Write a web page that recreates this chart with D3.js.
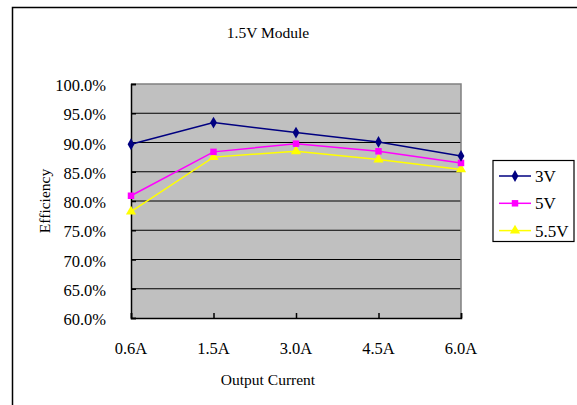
<!DOCTYPE html>
<html>
<head>
<meta charset="utf-8">
<script src="https://cdn.jsdelivr.net/npm/d3@7"></script>
<style>
  body { margin: 0; background: #fff; }
  text { font-family: "Liberation Serif", "Times New Roman", serif; fill: #000; }
</style>
</head>
<body>
<div id="chart"></div>
<script>
// data
var currents = ["0.6A", "1.5A", "3.0A", "4.5A", "6.0A"];
var eff3V = [89.7, 93.4, 91.7, 90.1, 87.7];
var eff5V = [80.9, 88.4, 89.8, 88.5, 86.5];
var eff55V = [78.2, 87.5, 88.5, 87.1, 85.4];
var seriesNames = ["3V", "5V", "5.5V"];
var yTicks = [60, 65, 70, 75, 80, 85, 90, 95, 100];

var svgWidth = 577;
var svgHeight = 405;

var plot = {left: 131, right: 461, top: 84, bottom: 318};

var svg = d3.select("#chart")
    .append("svg")
    .attr("width", svgWidth)
    .attr("height", svgHeight);

// chart area border (only left & top visible in the crop)
svg.append("path")
    .attr("d", "M12.5,405 L12.5,7.5 L577,7.5")
    .attr("fill", "none")
    .attr("stroke", "#000")
    .attr("stroke-width", 1.5);

// scales
var xScale = d3.scalePoint()
    .domain(currents)
    .range([plot.left, plot.right]);

var yScale = d3.scaleLinear()
    .domain([60, 100])
    .range([plot.bottom, plot.top]);

// plot background
svg.append("rect")
    .attr("x", plot.left)
    .attr("y", plot.top)
    .attr("width", plot.right - plot.left)
    .attr("height", plot.bottom - plot.top)
    .attr("fill", "#c0c0c0");

// gridlines
svg.append("g")
    .selectAll("line")
    .data(yTicks.filter(d => d > 60 && d < 100))
    .enter()
    .append("line")
    .attr("x1", plot.left)
    .attr("x2", plot.right)
    .attr("y1", d => yScale(d))
    .attr("y2", d => yScale(d))
    .attr("stroke", "#000")
    .attr("stroke-width", 1);

// top & right plot border (gray)
svg.append("path")
    .attr("d", `M${plot.left},${plot.top} L${plot.right},${plot.top} L${plot.right},${plot.bottom}`)
    .attr("fill", "none")
    .attr("stroke", "#808080")
    .attr("stroke-width", 1.5);

// y axis: ticks inside
var yAxis = d3.axisRight(yScale)
    .tickValues(yTicks)
    .tickSize(5)
    .tickFormat("");

svg.append("g")
    .attr("transform", `translate(${plot.left},0)`)
    .call(yAxis)
    .call(g => g.select(".domain").attr("stroke", "#000").attr("stroke-width", 1.5))
    .call(g => g.selectAll(".tick line").attr("stroke", "#000").attr("stroke-width", 1.5));

// y tick labels
svg.append("g")
    .selectAll("text")
    .data(yTicks)
    .enter()
    .append("text")
    .attr("x", 106)
    .attr("y", d => yScale(d) + 7)
    .attr("text-anchor", "end")
    .style("font-size", "16.5px")
    .text(d => d.toFixed(1) + "%");

// x axis: ticks inside
var xAxis = d3.axisTop(xScale)
    .tickSize(5)
    .tickFormat("");

svg.append("g")
    .attr("transform", `translate(0,${plot.bottom})`)
    .call(xAxis)
    .call(g => g.select(".domain").attr("stroke", "#000").attr("stroke-width", 1.5))
    .call(g => g.selectAll(".tick line").attr("stroke", "#000").attr("stroke-width", 1.5));

svg.append("g")
    .selectAll("text")
    .data(currents)
    .enter()
    .append("text")
    .attr("x", d => xScale(d))
    .attr("y", 354)
    .attr("text-anchor", "middle")
    .style("font-size", "16.5px")
    .text(d => d);

// series
var series = [
    {name: seriesNames[0], values: eff3V, color: "#000080", shape: d3.symbolDiamond, size: 40},
    {name: seriesNames[1], values: eff5V, color: "#ff00ff", shape: d3.symbolSquare, size: 42},
    {name: seriesNames[2], values: eff55V, color: "#ffff00", shape: d3.symbolTriangle, size: 45}
];

var line = d3.line()
    .x((d, i) => xScale(currents[i]))
    .y(d => yScale(d));

series.slice().reverse().forEach(function (s) {
    svg.append("path")
        .datum(s.values)
        .attr("fill", "none")
        .attr("stroke", s.color)
        .attr("stroke-width", 1.5)
        .attr("d", line);

    svg.append("g")
        .selectAll("path")
        .data(s.values)
        .enter()
        .append("path")
        .attr("transform", (d, i) => `translate(${xScale(currents[i])},${yScale(d)})`)
        .attr("d", d3.symbol().type(s.shape).size(s.size))
        .attr("fill", s.color);
});

// title
svg.append("text")
    .attr("x", 268)
    .attr("y", 38)
    .attr("text-anchor", "middle")
    .style("font-size", "15.5px")
    .text("1.5V Module");

// axis titles
svg.append("text")
    .attr("x", 268)
    .attr("y", 385)
    .attr("text-anchor", "middle")
    .style("font-size", "15.5px")
    .text("Output Current");

svg.append("text")
    .attr("transform", `translate(50,${(plot.top + plot.bottom) / 2}) rotate(-90)`)
    .attr("text-anchor", "middle")
    .style("font-size", "15.5px")
    .text("Efficiency");

// legend
var legend = svg.append("g");

legend.append("rect")
    .attr("x", 493)
    .attr("y", 160.5)
    .attr("width", 81)
    .attr("height", 81)
    .attr("fill", "#fff")
    .attr("stroke", "#000")
    .attr("stroke-width", 1.2);

series.forEach(function (s, i) {
    var ly = 176 + i * 27.3;
    legend.append("line")
        .attr("x1", 499)
        .attr("x2", 531)
        .attr("y1", ly)
        .attr("y2", ly)
        .attr("stroke", s.color)
        .attr("stroke-width", 1.5);
    legend.append("path")
        .attr("transform", `translate(515,${ly})`)
        .attr("d", d3.symbol().type(s.shape).size(s.size))
        .attr("fill", s.color);
    legend.append("text")
        .attr("x", 535)
        .attr("y", ly + 6)
        .style("font-size", "17px")
        .text(s.name);
});
</script>
</body>
</html>
